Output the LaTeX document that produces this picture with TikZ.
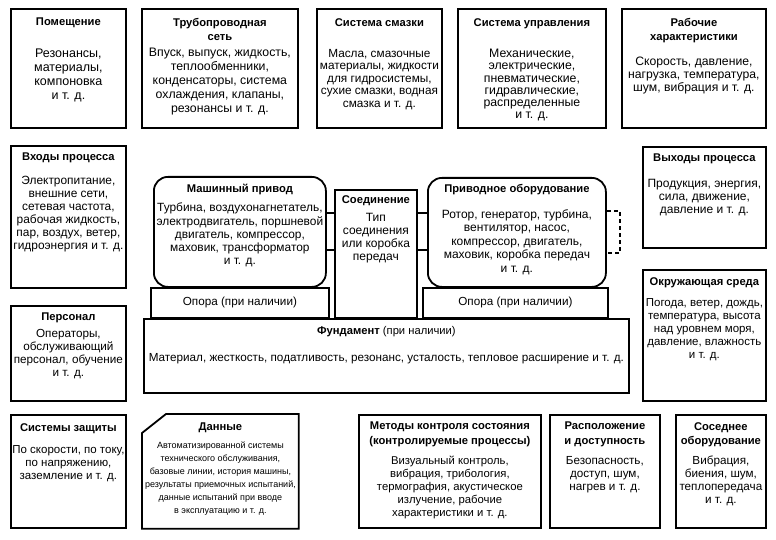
\documentclass[tikz,border=0pt]{standalone}
\usepackage{fontspec}
\setmainfont{Liberation Sans}
\usetikzlibrary{positioning}

\begin{document}
\begin{tikzpicture}[x=1pt, y=-1pt,
    box/.style={draw, line width=1.8pt, anchor=north west, inner sep=0pt},
    rbox/.style={box, rounded corners=14pt},
    head/.style={font=\fontsize{11.2}{14.5}\selectfont\bfseries, align=center, inner sep=0pt},
    txt/.style={font=\fontsize{11.7}{13}\selectfont, align=center, inner sep=0pt},
    link/.style={line width=1.8pt}]
  \useasboundingbox (0,0) rectangle (776,540);

  \node[box, minimum width=115pt, minimum height=119pt] (room) at (10,8) {};
  \node[head, below=10pt of room.north] (roomh) {Помещение};
  \node[txt, font=\fontsize{12.5}{14}\selectfont, below=41pt of room.north] (roomt) {Резонансы,\\материалы,\\компоновка\\и т. д.};

  \node[box, minimum width=156pt, minimum height=119pt] (pipe) at (141,8) {};
  \node[head, below=10pt of pipe.north] (pipeh) {Трубопроводная\\сеть};
  \node[txt, font=\fontsize{12.3}{14}\selectfont, below=40pt of pipe.north] (pipet) {Впуск, выпуск, жидкость,\\теплообменники,\\конденсаторы, система\\охлаждения, клапаны,\\резонансы и т. д.};

  \node[box, minimum width=125pt, minimum height=119pt] (lube) at (316,8) {};
  \node[head, below=10pt of lube.north] (lubeh) {Система смазки};
  \node[txt, font=\fontsize{11.8}{12.5}\selectfont, below=41pt of lube.north] (lubet) {Масла, смазочные\\материалы, жидкости\\для гидросистемы,\\сухие смазки, водная\\смазка и т. д.};

  \node[box, minimum width=148pt, minimum height=119pt] (ctrl) at (457,8) {};
  \node[head, below=10pt of ctrl.north] (ctrlh) {Система управления};
  \node[txt, font=\fontsize{12.3}{12.2}\selectfont, below=41pt of ctrl.north] (ctrlt) {Механические,\\электрические,\\пневматические,\\гидравлические,\\распределенные\\и т. д.};

  \node[box, minimum width=144pt, minimum height=119pt] (perf) at (621,8) {};
  \node[head, below=10pt of perf.north] (perfh) {Рабочие\\характеристики};
  \node[txt, font=\fontsize{12.2}{13}\selectfont, below=49pt of perf.north] (perft) {Скорость, давление,\\нагрузка, температура,\\шум, вибрация и т. д.};

  \node[box, minimum width=115pt, minimum height=142pt] (inp) at (10,145) {};
  \node[head, below=8pt of inp.north] (inph) {Входы процесса};
  \node[txt, font=\fontsize{11.9}{13}\selectfont, below=31pt of inp.north] (inpt) {Электропитание,\\внешние сети,\\сетевая частота,\\рабочая жидкость,\\пар, воздух, ветер,\\гидроэнергия и т. д.};

  \node[box, minimum width=115pt, minimum height=95pt] (staff) at (10,305) {};
  \node[head, below=8pt of staff.north] (staffh) {Персонал};
  \node[txt, below=24pt of staff.north] (stafft) {Операторы,\\обслуживающий\\персонал, обучение\\и т. д.};

  \node[box, minimum width=123pt, minimum height=101pt] (outp) at (642,146) {};
  \node[head, below=8pt of outp.north] (outph) {Выходы процесса};
  \node[txt, font=\fontsize{12}{13}\selectfont, below=33pt of outp.north] (outpt) {Продукция, энергия,\\сила, движение,\\давление и т. д.};

  \node[box, minimum width=123pt, minimum height=131pt] (env) at (642,269) {};
  \node[head, below=8pt of env.north] (envh) {Окружающая среда};
  \node[txt, font=\fontsize{11.5}{13}\selectfont, below=29pt of env.north] (envt) {Погода, ветер, дождь,\\температура, высота\\над уровнем моря,\\давление, влажность\\и т. д.};

  \node[rbox, minimum width=172pt, minimum height=110pt] (mach) at (153,176) {};
  \node[head, below=8pt of mach.north] (machh) {Машинный привод};
  \node[txt, font=\fontsize{11.9}{13.2}\selectfont, below=27pt of mach.north] (macht) {Турбина, воздухонагнетатель,\\электродвигатель, поршневой\\двигатель, компрессор,\\маховик, трансформатор\\и т. д.};

  \node[box, minimum width=82pt, minimum height=128pt] (coup) at (334,189) {};
  \node[head, below=6pt of coup.north] (couph) {Соединение};
  \node[txt, font=\fontsize{12}{13}\selectfont, below=24pt of coup.north] (coupt) {Тип\\соединения\\или коробка\\передач};

  \node[rbox, minimum width=178pt, minimum height=109pt] (drv) at (427,177) {};
  \node[head, below=7pt of drv.north] (drvh) {Приводное оборудование};
  \node[txt, font=\fontsize{12}{13.5}\selectfont, below=32pt of drv.north] (drvt) {Ротор, генератор, турбина,\\вентилятор, насос,\\компрессор, двигатель,\\маховик, коробка передач\\и т. д.};

  \node[box, txt, draw, minimum width=178pt, minimum height=30pt] (supl) at (150,287) {Опора (при наличии)};
  \node[box, txt, draw, minimum width=185pt, minimum height=30pt] (supr) at (422,287) {Опора (при наличии)};

  \node[box, minimum width=485pt, minimum height=74pt] (fund) at (143,318) {};
  \node[head, below=8pt of fund.north] (fundh) {Фундамент \textmd{(при наличии)}};
  \node[txt, below=35pt of fund.north] (fundt) {Материал, жесткость, податливость, резонанс, усталость, тепловое расширение и т. д.};

  \node[box, minimum width=115pt, minimum height=113pt] (prot) at (10,414) {};
  \node[head, below=9pt of prot.north] (proth) {Системы защиты};
  \node[txt, font=\fontsize{11.5}{13}\selectfont, below=31pt of prot.north] (prott) {По скорости, по току,\\по напряжению,\\заземление и т. д.};

  \node[box, draw=none, minimum width=155pt, minimum height=113pt] (data) at (142,414) {};
  \draw[link] ([xshift=24pt]data.north west) -- (data.north east) -- (data.south east) -- (data.south west) -- ([yshift=-19pt]data.north west) -- cycle;
  \node[head, below=9pt of data.north] (datah) {Данные};
  \node[txt, font=\fontsize{9}{13}\selectfont, below=28pt of data.north] (datat) {Автоматизированной системы\\технического обслуживания,\\базовые линии, история машины,\\результаты приемочных испытаний,\\данные испытаний при вводе\\в эксплуатацию и т. д.};

  \node[box, minimum width=182pt, minimum height=113pt] (mon) at (358,414) {};
  \node[head, below=8pt of mon.north] (monh) {Методы контроля состояния\\(контролируемые процессы)};
  \node[txt, font=\fontsize{11.3}{13}\selectfont, below=42pt of mon.north] (mont) {Визуальный контроль,\\вибрация, трибология,\\термография, акустическое\\излучение, рабочие\\характеристики и т. д.};

  \node[box, minimum width=110pt, minimum height=113pt] (loc) at (549,414) {};
  \node[head, below=8pt of loc.north] (loch) {Расположение\\и доступность};
  \node[txt, below=42pt of loc.north] (loct) {Безопасность,\\доступ, шум,\\нагрев и т. д.};

  \node[box, minimum width=90pt, minimum height=113pt] (nbr) at (675,414) {};
  \node[head, below=8pt of nbr.north] (nbrh) {Соседнее\\оборудование};
  \node[txt, below=42pt of nbr.north] (nbrt) {Вибрация,\\биения, шум,\\теплопередача\\и т. д.};

  \coordinate (jt) at (0,213);
  \coordinate (jb) at (0,250);
  \draw[link] (mach.east |- jt) -- (coup.west |- jt);
  \draw[link] (mach.east |- jb) -- (coup.west |- jb);
  \draw[link] (coup.east |- jt) -- (drv.west |- jt);
  \draw[link] (coup.east |- jb) -- (drv.west |- jb);

  \coordinate (bt) at (607,211);
  \coordinate (bb) at (607,253);
  \draw[line width=1.3pt, dash pattern=on 4pt off 3pt] (bt) -- ++(13,0) |- (bb);
\end{tikzpicture}
\end{document}
